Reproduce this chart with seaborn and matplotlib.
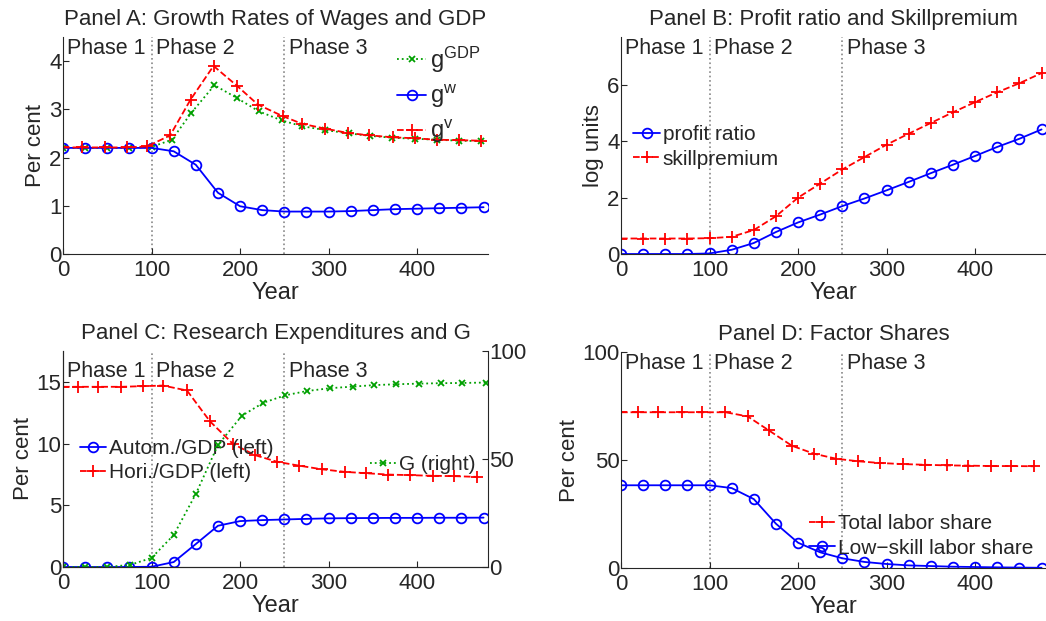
import numpy as np
import pandas as pd
import matplotlib
matplotlib.use("Agg")
import matplotlib.pyplot as plt
import seaborn as sns

# ---- data ----
years25 = [0, 25, 50, 75, 100, 125, 150, 175, 200, 225, 250, 275, 300, 325, 350, 375, 400, 425, 450, 475]

# Panel A
gw = [2.2, 2.2, 2.2, 2.2, 2.2, 2.13, 1.85, 1.27, 0.99, 0.91, 0.88, 0.88, 0.88, 0.89, 0.91, 0.93, 0.94, 0.95, 0.96, 0.97]
gv_years = [0, 21, 47, 72, 95, 121, 144, 170, 197, 220, 248, 270, 296, 322, 346, 373, 397, 422, 447, 472]
gv = [2.21, 2.21, 2.21, 2.21, 2.23, 2.46, 3.2, 3.9, 3.48, 3.1, 2.86, 2.7, 2.6, 2.51, 2.46, 2.42, 2.4, 2.37, 2.36, 2.35]
ggdp_years = [0, 25, 50, 75, 100, 123, 145, 171, 196, 221, 247, 270, 296, 323, 347, 372, 397, 422, 447, 472]
ggdp = [2.2, 2.2, 2.2, 2.2, 2.22, 2.37, 2.93, 3.5, 3.24, 2.96, 2.77, 2.65, 2.57, 2.5, 2.45, 2.41, 2.39, 2.37, 2.35, 2.34]

# Panel B
profit = [0, 0, 0, 0, 0.02, 0.15, 0.39, 0.78, 1.12, 1.4, 1.7, 1.97, 2.26, 2.56, 2.87, 3.17, 3.48, 3.8, 4.09, 4.42]
skill = [0.55, 0.55, 0.55, 0.55, 0.56, 0.61, 0.85, 1.34, 2.0, 2.5, 3.0, 3.44, 3.88, 4.27, 4.65, 5.03, 5.39, 5.74, 6.06, 6.42]

# Panel C
autom = [0, 0, 0, 0, 0.02, 0.4, 1.86, 3.34, 3.72, 3.8, 3.85, 3.9, 3.94, 3.96, 3.97, 3.98, 3.98, 3.99, 3.99, 4.0]
hori_years = [0, 17, 39, 66, 90, 113, 140, 166, 192, 217, 242, 266, 292, 318, 342, 367, 392, 418, 442, 468]
hori = [14.6, 14.6, 14.6, 14.6, 14.65, 14.7, 14.3, 11.8, 9.97, 9.06, 8.52, 8.22, 7.92, 7.71, 7.6, 7.49, 7.44, 7.39, 7.36, 7.3]
G_years = [0, 25, 50, 76, 100, 125, 150, 175, 202, 226, 251, 276, 302, 327, 351, 376, 402, 427, 451, 478]
G = [0, 0, 0, 1, 4.2, 14.8, 33.8, 56.5, 70, 76, 79.5, 81.5, 82.8, 83.5, 84.2, 84.6, 84.9, 85.1, 85.2, 85.4]

# Panel D
lowskill = [38.3, 38.3, 38.3, 38.3, 38.3, 37, 31.9, 20.5, 11.7, 7.25, 4.5, 2.8, 1.85, 1.2, 0.9, 0.6, 0.45, 0.3, 0.2, 0.1]
total_years = [0, 19, 42, 69, 92, 118, 143, 167, 193, 218, 243, 268, 293, 319, 343, 368, 392, 418, 441, 466]
total = [72.1, 72.1, 72.1, 72.1, 72.1, 72.1, 70.2, 63.7, 56.6, 52.9, 50.6, 49.4, 48.6, 48.1, 47.8, 47.5, 47.4, 47.2, 47.2, 47.1]

phase_x = [5, 105, 255]
phase_labels = ["Phase 1", "Phase 2", "Phase 3"]
phase_bounds = [100, 250]

sns.set_style("ticks")
plt.rcParams['font.family'] = ['Liberation Sans', 'DejaVu Sans']
plt.rcParams['font.size'] = 16
plt.rcParams['mathtext.fontset'] = 'custom'
plt.rcParams['mathtext.rm'] = 'Liberation Sans'

fig = plt.figure(figsize=(10.46, 6.21), dpi=100)
W, H = 1046, 621


def make_ax(left, top, right, bottom):
    return fig.add_axes([left / W, 1 - bottom / H, (right - left) / W, (bottom - top) / H])


axA = make_ax(63, 37, 488, 254)
axB = make_ax(621, 37, 1046, 254)
axC = make_ax(63, 351, 488, 567)
axD = make_ax(621, 352, 1046, 568)

BLUE, RED, GREEN = "#0000ff", "#ff0000", "#00a000"


def line(ax, x, y, color, ls, marker, ms, label, lw=1.3):
    df = pd.DataFrame({"Year": x, "v": y})
    sns.lineplot(data=df, x="Year", y="v", ax=ax, color=color, linestyle=ls, lw=lw,
                 marker=marker, markersize=ms, markerfacecolor="none",
                 markeredgecolor=color, markeredgewidth=1.3, label=label, legend=False)
    return ax.lines[-1]


def style(ax, ylim, yticks, title, ylabel, text_y=0.995):
    ax.set_xlim(0, 480)
    ax.set_ylim(*ylim)
    ax.set_xticks([0, 100, 200, 300, 400])
    ax.set_yticks(yticks)
    ax.tick_params(direction="in", length=4, labelsize=16, pad=1)
    ax.tick_params(axis="x", pad=4)
    ax.set_xlabel("Year", fontsize=17, labelpad=1)
    ax.set_ylabel(ylabel, fontsize=16, labelpad=2)
    ax.set_title(title, fontsize=16, pad=9)
    for b in phase_bounds:
        ax.axvline(b, color="#888888", ls=":", lw=1.2, zorder=0)
    for px, lab in zip(phase_x, phase_labels):
        ax.text(px, text_y, lab, transform=ax.get_xaxis_transform(), va="top", ha="left", fontsize=15.5)
    sns.despine(ax=ax)


leg_kw = dict(frameon=False, handlelength=1.25, handletextpad=0.15, borderpad=0.1)

# Panel A
hA1 = line(axA, ggdp_years, ggdp, GREEN, ":", "x", 5, r"$\mathrm{g^{GDP}}$")
hA2 = line(axA, years25, gw, BLUE, "-", "o", 7, r"$\mathrm{g^{w}}$")
hA3 = line(axA, gv_years, gv, RED, "--", "+", 8, r"$\mathrm{g^{v}}$")
style(axA, (0, 4.5), [0, 1, 2, 3, 4], "Panel A: Growth Rates of Wages and GDP", "Per cent")
axA.legend(handles=[hA1, hA2, hA3], loc="upper right", bbox_to_anchor=(1.015, 1.03),
           fontsize=17, labelspacing=0.33, **leg_kw)

# Panel B
hB1 = line(axB, years25, profit, BLUE, "-", "o", 7, "profit ratio")
hB2 = line(axB, years25, skill, RED, "--", "+", 8, "skillpremium")
style(axB, (0, 7.7), [0, 2, 4, 6], "Panel B: Profit ratio and Skillpremium", "log units")
axB.legend(handles=[hB1, hB2], loc="upper left", bbox_to_anchor=(0.0, 0.65),
           fontsize=15, labelspacing=0.25, **leg_kw)

# Panel C
hC1 = line(axC, years25, autom, BLUE, "-", "o", 7, "Autom./GDP (left)")
hC2 = line(axC, hori_years, hori, RED, "--", "+", 8, "Hori./GDP (left)")
style(axC, (0, 17.5), [0, 5, 10, 15], "Panel C: Research Expenditures and G", "Per cent", text_y=0.955)
axC2 = axC.twinx()
hC3 = line(axC2, G_years, G, GREEN, ":", "x", 5, "G (right)")
axC2.set_ylim(0, 100)
axC2.set_yticks([0, 50, 100])
axC2.set_ylabel("")
axC2.tick_params(direction="in", length=4, labelsize=16, pad=1)
axC2.spines["top"].set_visible(False)
axC.legend(handles=[hC1, hC2], loc="upper left", bbox_to_anchor=(0.01, 0.65),
           fontsize=15, labelspacing=0.25, **leg_kw)
axC2.legend(handles=[hC3], loc="upper right", bbox_to_anchor=(1.0, 0.575),
            fontsize=15, **leg_kw)

# Panel D
hD1 = line(axD, total_years, total, RED, "--", "+", 8, "Total labor share")
hD2 = line(axD, years25, lowskill, BLUE, "-", "o", 7, "Low\u2212skill labor share")
style(axD, (0, 100), [0, 50, 100], "Panel D: Factor Shares", "Per cent")
axD.legend(handles=[hD1, hD2], loc="lower right", bbox_to_anchor=(1.0, -0.01),
           fontsize=15, labelspacing=0.25, **leg_kw)

fig.savefig("out.png", dpi=100)
